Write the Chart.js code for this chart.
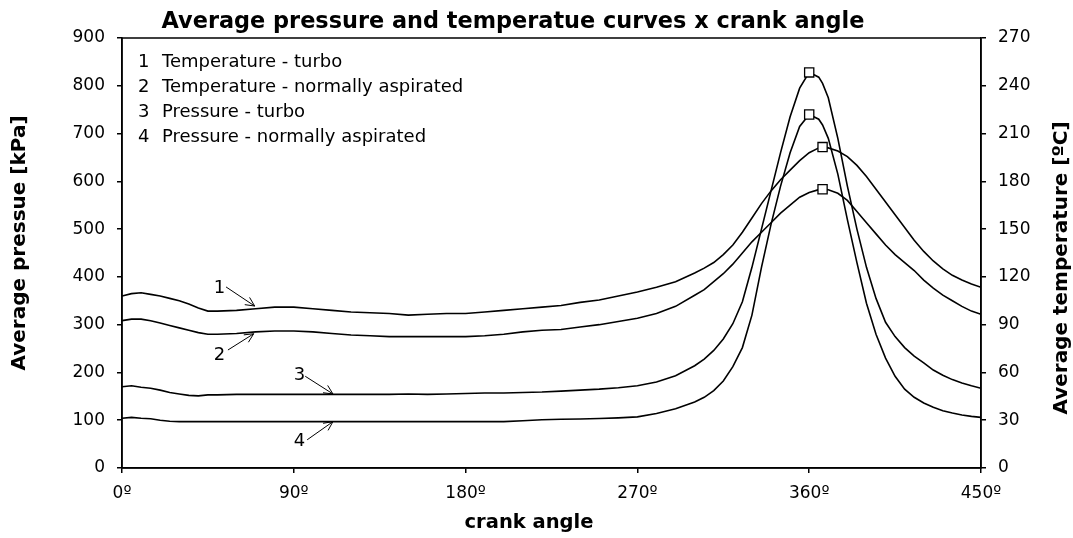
<!DOCTYPE html>
<html>
<head>
<meta charset="utf-8">
<script src="https://cdn.jsdelivr.net/npm/chart.js@4"></script>
<style>
  html, body { margin: 0; padding: 0; background: #fff; }
</style>
</head>
<body>
<canvas id="chart" width="1073" height="538"></canvas>
<script>
// crank angle (degrees)
const angles = [0, 5, 10, 15, 20, 25, 30, 35, 40, 45, 50, 60, 70, 80, 90, 100, 110, 120, 130, 140,
  150, 160, 170, 180, 190, 200, 210, 220, 230, 240, 250, 260, 270, 280, 290, 300, 305, 310, 315, 320,
  325, 330, 335, 340, 345, 350, 355, 360, 365, 367, 370, 375, 380, 385, 390, 395, 400, 405, 410, 415,
  420, 425, 430, 435, 440, 445, 450];

// 1 - temperature turbo [ºC]
const tempTurbo = [108, 109.5, 110, 109, 108, 106.5, 105, 103, 100.5, 98.5, 98.5, 99, 100, 101, 101, 100, 99, 98, 97.5, 97,
  96, 96.5, 97, 97, 98, 99, 100, 101, 102, 104, 105.5, 108, 110.5, 113.5, 117, 122.5, 125.5, 129, 134, 140,
  148, 157, 166, 174, 181, 187, 193, 198, 201, 201.5, 201, 199, 195.5, 190, 183, 175, 167, 159, 151, 143,
  136, 130, 125, 121, 118, 115.5, 113.5];

// 2 - temperature normally aspirated [ºC]
const tempNA = [92.5, 93.5, 93.5, 92.5, 91, 89.5, 88, 86.5, 85, 84, 84, 84.5, 85.5, 86, 86, 85.5, 84.5, 83.5, 83, 82.5,
  82.5, 82.5, 82.5, 82.5, 83, 84, 85.5, 86.5, 87, 88.5, 90, 92, 94, 97, 101.5, 108.5, 112, 117, 122, 128,
  135, 142, 148, 154, 160, 165, 170, 173, 174.8, 175, 174.7, 172.5, 168, 161, 154, 147, 140, 134, 129, 124,
  118, 113, 108.5, 105, 101.5, 98.5, 96.5];

// 3 - pressure turbo [kPa]
const pressTurbo = [170, 172, 169, 167, 163, 158, 155, 152, 151, 153, 153, 154, 154, 154, 154, 154, 154, 154, 154, 154,
  155, 154, 155, 156, 157, 157, 158, 159, 161, 163, 165, 168, 172, 180, 193, 214, 228, 246, 270, 302,
  348, 420, 500, 580, 660, 735, 795, 828, 818, 805, 775, 690, 590, 500, 420, 355, 305, 275, 252, 234,
  220, 205, 194, 185, 178, 172, 167];

// 4 - pressure normally aspirated [kPa]
const pressNA = [104, 106, 104, 103, 100, 98, 97, 97, 97, 97, 97, 97, 97, 97, 97, 97, 97, 97, 97, 97,
  97, 97, 97, 97, 97, 97, 99, 101, 102, 102.5, 103.5, 105, 107, 114, 124, 138, 148, 162, 182, 212,
  252, 320, 420, 510, 590, 660, 715, 740, 730, 718, 690, 615, 520, 430, 345, 280, 230, 192, 165, 148,
  136, 127, 120, 115, 111, 108, 106];

const legendNumbers = ["1", "2", "3", "4"];
const legendTexts = ["Temperature - turbo", "Temperature - normally aspirated", "Pressure - turbo", "Pressure - normally aspirated"];

// callouts: number position and arrow (angle, kPa)
const calloutText = ["1", "2", "3", "4"];
const calloutAngle = [51, 51, 93, 93];
const calloutValue = [376, 236, 195, 55];
const arrowFromAngle = [54.5, 55.5, 96, 97];
const arrowFromValue = [379, 247, 192, 59];
const arrowToAngle = [69.5, 69, 110.5, 110.5];
const arrowToValue = [339, 281, 155, 97];

const FONT = "'DejaVu Sans', Verdana, sans-serif";

function peakRadius(values) {
  const top = values.indexOf(Math.max(...values));
  return values.map((v, i) => (i === top ? 6.5 : 0));
}

function makeSet(values, axis) {
  return {
    data: angles.map((a, i) => ({ x: a, y: values[i] })),
    yAxisID: axis,
    borderColor: "#000",
    borderWidth: 1.6,
    tension: 0,
    pointStyle: "rect",
    pointRadius: peakRadius(values),
    pointHoverRadius: 0,
    pointBackgroundColor: "#fff",
    pointBorderColor: "#000",
    pointBorderWidth: 1.3,
  };
}

const frame = {
  id: "frame",
  beforeDatasetsDraw(chart) {
    const { ctx, chartArea: a } = chart;
    ctx.save();
    ctx.strokeStyle = "#000";
    ctx.lineWidth = 1.5;
    ctx.strokeRect(a.left, a.top, a.right - a.left, a.bottom - a.top);
    ctx.restore();
  },
};

function vertText(ctx, text, cx, cy) {
  ctx.save();
  ctx.translate(cx, cy);
  ctx.rotate(-Math.PI / 2);
  ctx.fillText(text, 0, 0);
  ctx.restore();
}

const notes = {
  id: "notes",
  afterDatasetsDraw(chart) {
    const { ctx, chartArea: a } = chart;
    const x = chart.scales.x, y = chart.scales.y;
    ctx.save();
    ctx.fillStyle = "#000";
    ctx.font = "18px " + FONT;
    ctx.textBaseline = "middle";

    // legend box text
    legendTexts.forEach((t, i) => {
      const ly = a.top + 24 + i * 25;
      ctx.textAlign = "left";
      ctx.fillText(legendNumbers[i], a.left + 16, ly);
      ctx.fillText(t, a.left + 40, ly);
    });

    // numbered callouts with arrows
    ctx.strokeStyle = "#000";
    ctx.lineWidth = 1;
    calloutText.forEach((t, i) => {
      ctx.textAlign = "center";
      ctx.fillText(t, x.getPixelForValue(calloutAngle[i]), y.getPixelForValue(calloutValue[i]));
      const x1 = x.getPixelForValue(arrowFromAngle[i]), y1 = y.getPixelForValue(arrowFromValue[i]);
      const x2 = x.getPixelForValue(arrowToAngle[i]), y2 = y.getPixelForValue(arrowToValue[i]);
      const ang = Math.atan2(y2 - y1, x2 - x1);
      ctx.beginPath();
      ctx.moveTo(x1, y1);
      ctx.lineTo(x2, y2);
      ctx.moveTo(x2 - 10 * Math.cos(ang - 0.45), y2 - 10 * Math.sin(ang - 0.45));
      ctx.lineTo(x2, y2);
      ctx.lineTo(x2 - 10 * Math.cos(ang + 0.45), y2 - 10 * Math.sin(ang + 0.45));
      ctx.stroke();
    });
    ctx.restore();
  },
  afterDraw(chart) {
    const ctx = chart.ctx;
    ctx.save();
    ctx.fillStyle = "#000";
    ctx.textAlign = "center";
    ctx.textBaseline = "middle";
    ctx.font = "bold 22.4px " + FONT;
    ctx.fillText("Average pressure and temperatue curves x crank angle", 513, 22);
    ctx.font = "bold 19.5px " + FONT;
    ctx.fillText("crank angle", 529, 523);
    ctx.font = "bold 20px " + FONT;
    vertText(ctx, "Average pressue [kPa]", 20, 243);
    vertText(ctx, "Average temperature [ºC]", 1062, 268);
    ctx.restore();
  },
};

const tickFont = { family: FONT, size: 17 };

new Chart(document.getElementById("chart"), {
  type: "line",
  data: {
    datasets: [
      makeSet(tempTurbo, "y1"),
      makeSet(tempNA, "y1"),
      makeSet(pressTurbo, "y"),
      makeSet(pressNA, "y"),
    ],
  },
  options: {
    responsive: false,
    animation: false,
    layout: { padding: { top: 38 } },
    plugins: {
      legend: { display: false },
      tooltip: { enabled: false },
      title: { display: false },
    },
    scales: {
      x: {
        type: "linear",
        min: 0,
        max: 450,
        ticks: { stepSize: 90, color: "#000", font: tickFont, padding: 10, maxRotation: 0, callback: (v) => v + "º" },
        grid: { drawOnChartArea: false, color: "#000", tickLength: 5, lineWidth: 1.5 },
        border: { color: "#000", width: 1.5 },
        afterFit: (s) => { s.height = 70; },
      },
      y: {
        position: "left",
        min: 0,
        max: 900,
        ticks: { stepSize: 100, color: "#000", font: tickFont, padding: 12 },
        grid: { drawOnChartArea: false, color: "#000", tickLength: 5, lineWidth: 1.5 },
        border: { color: "#000", width: 1.5 },
        afterFit: (s) => { s.width = 122; },
      },
      y1: {
        position: "right",
        min: 0,
        max: 270,
        ticks: { stepSize: 30, color: "#000", font: tickFont, padding: 12 },
        grid: { drawOnChartArea: false, color: "#000", tickLength: 5, lineWidth: 1.5 },
        border: { color: "#000", width: 1.5 },
        afterFit: (s) => { s.width = 92; },
      },
    },
  },
  plugins: [frame, notes],
});
</script>
</body>
</html>
